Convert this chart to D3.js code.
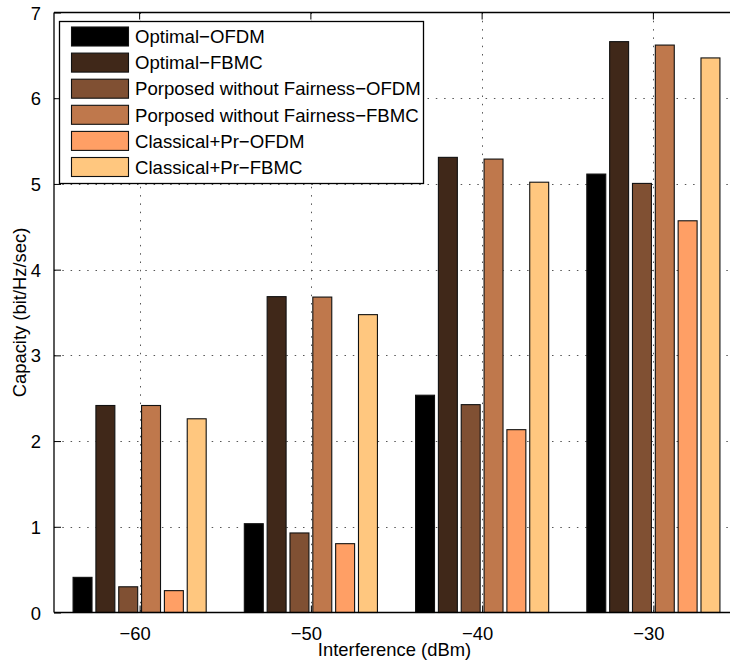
<!DOCTYPE html>
<html>
<head>
<meta charset="utf-8">
<script src="https://cdn.jsdelivr.net/npm/d3@7"></script>
<style>
  html, body { margin: 0; padding: 0; background: #fff; }
  text { font-family: "Liberation Sans", Arial, Helvetica, sans-serif; fill: #000; }
</style>
</head>
<body>
<svg id="chart" width="730" height="664"></svg>
<script>
// ---- data ----
const categories = [-60, -50, -40, -30];
const seriesNames = [
  "Optimal\u2212OFDM",
  "Optimal\u2212FBMC",
  "Porposed without Fairness\u2212OFDM",
  "Porposed without Fairness\u2212FBMC",
  "Classical+Pr\u2212OFDM",
  "Classical+Pr\u2212FBMC"
];
const optimalOFDM      = [0.41, 1.036, 2.535, 5.115];
const optimalFBMC      = [2.415, 3.685, 5.31, 6.66];
const proposedOFDM     = [0.30, 0.928, 2.425, 5.006];
const proposedFBMC     = [2.415, 3.68, 5.29, 6.62];
const classicalOFDM    = [0.255, 0.803, 2.133, 4.57];
const classicalFBMC    = [2.26, 3.475, 5.02, 6.47];
const seriesValues = [optimalOFDM, optimalFBMC, proposedOFDM, proposedFBMC, classicalOFDM, classicalFBMC];
const colors = ["#000000", "#402819", "#805033", "#bf784c", "#ff9f65", "#ffc77f"];
const yTicks = [0, 1, 2, 3, 4, 5, 6, 7];
const xTicks = [-60, -50, -40, -30];

// ---- layout ----
const svg = d3.select("#chart");
const pL = 54, pR = 739, pT = 12.5, pB = 612.5;
const x = d3.scaleLinear().domain([-65, -25]).range([pL, pR]);
const y = d3.scaleLinear().domain([0, 7]).range([pB, pT]);
const FS = 18.4;
const LFS = 18.6;

// grid
const grid = svg.append("g");
yTicks.slice(1, -1).forEach(t => {
  grid.append("line")
    .attr("x1", pL).attr("x2", pR)
    .attr("y1", Math.round(y(t)) + 0.5).attr("y2", Math.round(y(t)) + 0.5)
    .attr("stroke", "#555").attr("stroke-width", 1)
    .attr("stroke-dasharray", "1.5,6.8");
});
xTicks.forEach(t => {
  grid.append("line")
    .attr("x1", Math.round(x(t)) + 0.5).attr("x2", Math.round(x(t)) + 0.5)
    .attr("y1", pT).attr("y2", pB)
    .attr("stroke", "#555").attr("stroke-width", 1)
    .attr("stroke-dasharray", "1.5,6.8");
});

// bars
const nS = seriesValues.length;
const groupWidth = 8; // in data units (0.8 of 10)
const slot = groupWidth / nS;
const barW = slot * 0.83;
const barsG = svg.append("g");
seriesValues.forEach((vals, si) => {
  barsG.selectAll(null)
    .data(vals.map((v, ci) => ({ v, c: categories[ci] })))
    .enter().append("rect")
    .attr("x", d => x(d.c - groupWidth / 2 + slot * si + (slot - barW) / 2))
    .attr("width", x(barW) - x(0))
    .attr("y", d => y(d.v))
    .attr("height", d => y(0) - y(d.v))
    .attr("fill", colors[si])
    .attr("stroke", "#111")
    .attr("stroke-width", 1.1);
});

// axes box
svg.append("line").attr("x1", pL).attr("x2", pR).attr("y1", pB).attr("y2", pB)
  .attr("stroke", "#000").attr("stroke-width", 1.3);
svg.append("line").attr("x1", pL).attr("x2", pR).attr("y1", pT).attr("y2", pT)
  .attr("stroke", "#000").attr("stroke-width", 1.3);
svg.append("line").attr("x1", pL).attr("x2", pL).attr("y1", pT).attr("y2", pB)
  .attr("stroke", "#000").attr("stroke-width", 1.3);

// y axis via d3
const yAxis = d3.axisLeft(y).tickValues(yTicks).tickSize(-7).tickPadding(13).tickFormat(d3.format("d"));
const gy = svg.append("g").attr("transform", `translate(${pL},0)`).call(yAxis);
gy.select(".domain").remove();
gy.selectAll("line").attr("stroke", "#000").attr("stroke-width", 1);
gy.selectAll("text").attr("font-size", FS).attr("font-family", "Liberation Sans, Arial, sans-serif").attr("dy", "0.36em");

// x axis via d3
const xAxis = d3.axisBottom(x).tickValues(xTicks).tickSize(-7).tickPadding(14)
  .tickFormat(d => d < 0 ? "\u2212" + Math.abs(d) : String(d));
const gx = svg.append("g").attr("transform", `translate(0,${pB})`).call(xAxis);
gx.select(".domain").remove();
gx.selectAll("line").attr("stroke", "#000").attr("stroke-width", 1);
gx.selectAll("text").attr("font-size", FS).attr("font-family", "Liberation Sans, Arial, sans-serif").attr("dx", -5);

// top ticks
xTicks.forEach(t => {
  svg.append("line").attr("x1", x(t)).attr("x2", x(t)).attr("y1", pT).attr("y2", pT + 7)
    .attr("stroke", "#000").attr("stroke-width", 1);
});

// axis labels
svg.append("text").attr("x", (pL + pR) / 2 - 2).attr("y", 656)
  .attr("text-anchor", "middle").attr("font-size", FS).text("Interference (dBm)");
svg.append("text").attr("transform", `translate(26,${(pT + pB) / 2}) rotate(-90)`)
  .attr("text-anchor", "middle").attr("font-size", FS).text("Capacity (bit/Hz/sec)");

// legend
const lg = svg.append("g");
lg.append("rect").attr("x", 59.5).attr("y", 21.5).attr("width", 364).attr("height", 162)
  .attr("fill", "#fff").attr("stroke", "#000").attr("stroke-width", 1.3);
seriesNames.forEach((name, i) => {
  const cy = 36.5 + i * 26.1;
  lg.append("rect").attr("x", 71.5).attr("y", cy - 9.5).attr("width", 57).attr("height", 19)
    .attr("fill", colors[i]).attr("stroke", "#111").attr("stroke-width", 1.1);
  lg.append("text").attr("x", 135).attr("y", cy + 6.7).attr("font-size", LFS).text(name);
});
</script>
</body>
</html>
